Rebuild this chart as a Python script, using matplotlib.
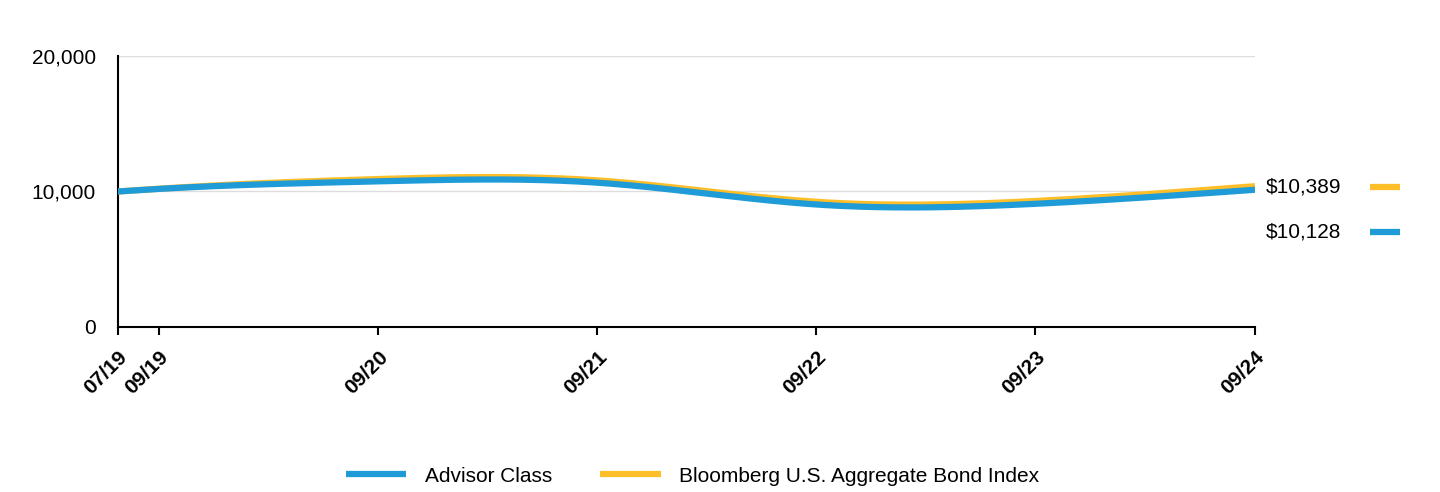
import numpy as np
import matplotlib.pyplot as plt
import matplotlib.dates as mdates
from datetime import date

plt.rcParams['font.family'] = ['Liberation Sans', 'DejaVu Sans']

# Growth of $10,000
dates = [date(2019, 7, 24), date(2019, 9, 30), date(2020, 9, 30), date(2021, 9, 30),
         date(2022, 9, 30), date(2023, 9, 30), date(2024, 9, 30)]
tick_labels = ["07/19", "09/19", "09/20", "09/21", "09/22", "09/23", "09/24"]
advisor = [10000, 10190, 10750, 10650, 9040, 9090, 10128]
bloomberg = [10000, 10205, 10918, 10820, 9240, 9299, 10389]

blue = "#1F9BD7"
gold = "#FDBE28"


def smooth(x, y, n=400):
    # natural cubic spline through the points, only for drawing a smooth line
    x = np.asarray(x, float)
    y = np.asarray(y, float)
    k = len(x)
    h = np.diff(x)
    A = np.zeros((k, k))
    r = np.zeros(k)
    A[0, 0] = A[-1, -1] = 1
    for i in range(1, k - 1):
        A[i, i - 1] = h[i - 1]
        A[i, i] = 2 * (h[i - 1] + h[i])
        A[i, i + 1] = h[i]
        r[i] = 3 * ((y[i + 1] - y[i]) / h[i] - (y[i] - y[i - 1]) / h[i - 1])
    c = np.linalg.solve(A, r)
    xs = np.linspace(x[0], x[-1], n)
    idx = np.clip(np.searchsorted(x, xs) - 1, 0, k - 2)
    dx = xs - x[idx]
    b = (y[1:] - y[:-1]) / h - h * (2 * c[:-1] + c[1:]) / 3
    d = (c[1:] - c[:-1]) / (3 * h)
    ys = y[idx] + b[idx] * dx + c[idx] * dx ** 2 + d[idx] * dx ** 3
    return xs, ys


xnum = mdates.date2num(dates)

fig = plt.figure(figsize=(14.4, 4.92), dpi=100)
ax = fig.add_axes([0.0819, 0.3354, 0.7896, 0.5508])

xs, ys = smooth(xnum, bloomberg)
ax.plot(xs, ys, color=gold, lw=4.5, solid_capstyle="butt", zorder=3,
        label="Bloomberg U.S. Aggregate Bond Index")
xs, ys = smooth(xnum, advisor)
ax.plot(xs, ys, color=blue, lw=4.5, solid_capstyle="butt", zorder=4,
        label="Advisor Class")

ax.set_xlim(xnum[0], xnum[-1])
ax.set_ylim(0, 20000)
ax.set_yticks([0, 10000, 20000])
ax.set_yticklabels(["0", "10,000", "20,000"], fontsize=15)
ax.set_xticks(xnum)
ax.set_xticklabels(tick_labels, rotation=45, ha="right", rotation_mode="anchor",
                   fontsize=15, fontweight="bold")
ax.tick_params(axis="y", length=0, pad=16)
ax.tick_params(axis="x", length=6, width=1.5, color="black", pad=9)
ax.grid(axis="y", color="#dddddd", lw=1)
ax.set_axisbelow(True)
for s in ["top", "right"]:
    ax.spines[s].set_visible(False)
ax.spines["left"].set_linewidth(1.5)
ax.spines["bottom"].set_linewidth(1.5)

# end-value labels on the right
fig.text(1266 / 1440, 1 - 187 / 492, "$10,389", fontsize=15, va="center", ha="left")
fig.text(1266 / 1440, 1 - 232 / 492, "$10,128", fontsize=15, va="center", ha="left")
fig.add_artist(plt.Line2D([1370 / 1440, 1400 / 1440], [1 - 187 / 492] * 2, color=gold,
                          lw=4.5, solid_capstyle="butt", transform=fig.transFigure))
fig.add_artist(plt.Line2D([1370 / 1440, 1400 / 1440], [1 - 232 / 492] * 2, color=blue,
                          lw=4.5, solid_capstyle="butt", transform=fig.transFigure))

handles, labels = ax.get_legend_handles_labels()
fig.legend(handles[::-1], labels[::-1], loc="center", bbox_to_anchor=(0.481, 1 - 476 / 492),
           ncol=2, frameon=False, fontsize=15, handlelength=2.9, columnspacing=2.3,
           handletextpad=0.9)

fig.savefig("out.png", dpi=100)
